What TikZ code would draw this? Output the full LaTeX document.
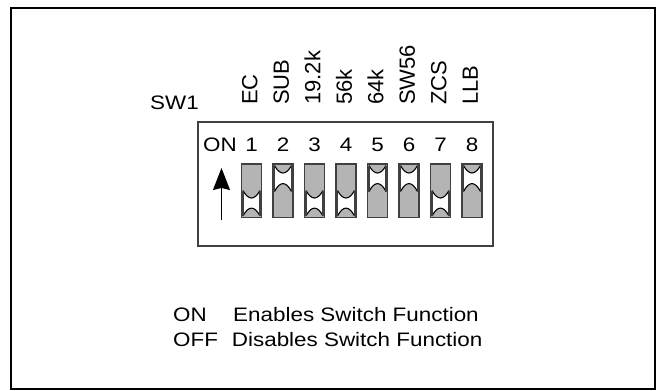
\documentclass[tikz,border=0pt]{standalone}
\usepackage{fontspec}
\setmainfont{Liberation Sans}
\newfontfamily\hfont[FakeStretch=1.15]{Liberation Sans}
\usetikzlibrary{arrows.meta}
\definecolor{swgray}{HTML}{B4B4B4}
\definecolor{boxline}{HTML}{404040}
\tikzset{
  htext/.style={inner sep=0pt, font=\hfont\fontsize{19.5}{23}\selectfont},
  vtext/.style={inner sep=0pt, rotate=90, anchor=west, text height=15.5pt, text depth=0pt,
                font=\fontsize{22}{25}\selectfont},
  swbody/.style={fill=swgray, draw=boxline, line width=1.3pt},
  swarc/.style={draw=black, line width=1.1pt},
  swside/.style={draw=boxline, line width=2pt},
}
\begin{document}
\begin{tikzpicture}[x=1pt,y=-1pt]
\useasboundingbox (0,0) rectangle (657,391);
% outer frame
\draw[line width=2pt] (11,8) rectangle (655,389);
% inner switch box
\draw[draw=boxline, line width=1.5pt] (198,122) rectangle (493,246);
% SW1 label
\node[htext, anchor=base west] (sw1) at (150,109) {SW1};
% ON label and numbers
\node[htext, anchor=base] (onlbl) at (220,151) {ON};
% switches: number/state (1 = slider up)
\foreach \i/\s/\lab in {1/0/EC,2/1/SUB,3/0/19.2k,4/0/56k,5/1/64k,6/1/SW56,7/0/ZCS,8/1/LLB}{
  \pgfmathsetmacro\cx{251.5+31.5*(\i-1)}
  \pgfmathsetmacro\ya{\s==1 ? 165.5 : 190.5}
  \pgfmathsetmacro\yb{\s==1 ? 191.5 : 216}
  \node[htext, anchor=base] (num\i) at (\cx,151) {\i};
  \node[vtext] (lab\i) at (\cx-2,105) {\lab};
  \draw[swbody] (\cx-10,164) rectangle (\cx+10,217.5);
  \fill[white] (\cx-8.5,\ya) .. controls (\cx-3,\ya+10) and (\cx+3,\ya+10) .. (\cx+8.5,\ya)
     -- (\cx+8.5,\yb) .. controls (\cx+3,\yb-10.5) and (\cx-3,\yb-10.5) .. (\cx-8.5,\yb) -- cycle;
  \draw[swarc] (\cx-8.5,\ya) .. controls (\cx-3,\ya+10) and (\cx+3,\ya+10) .. (\cx+8.5,\ya);
  \draw[swarc] (\cx-8.5,\yb) .. controls (\cx-3,\yb-10.5) and (\cx+3,\yb-10.5) .. (\cx+8.5,\yb);
  \draw[swside] (\cx-8.6,\ya) -- (\cx-8.6,\yb);
  \draw[swside] (\cx+8.6,\ya) -- (\cx+8.6,\yb);
}
% ON arrow
\coordinate (arrowtail) at (221.5,219.5);
\coordinate (arrowtip) at (221.5,168);
\draw[line width=1.3pt, -{Stealth[length=22pt,width=17pt,inset=2pt]}] (arrowtail) -- (arrowtip);
% legend
\node[htext, anchor=base west] (onkey) at (173,321.7) {ON};
\node[htext, anchor=base west] (ondesc) at (233,321.7) {Enables Switch Function};
\node[htext, anchor=base west] (offkey) at (173,346.7) {OFF};
\node[htext, anchor=base west] (offdesc) at (231.7,346.7) {Disables Switch Function};
\end{tikzpicture}
\end{document}
